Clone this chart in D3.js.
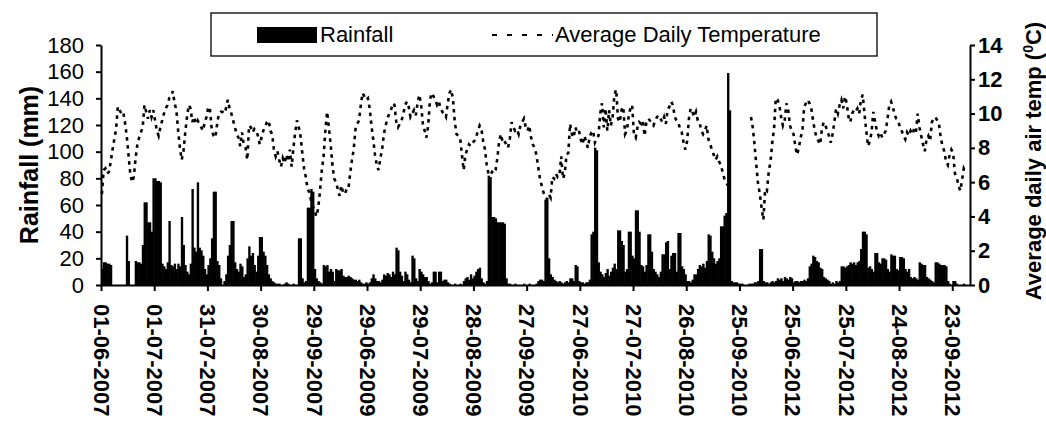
<!DOCTYPE html>
<html>
<head>
<meta charset="utf-8">
<script src="https://cdn.jsdelivr.net/npm/d3@7"></script>
<style>
  body { margin: 0; background: #fff; }
  svg { display: block; font-family: "Liberation Sans", Arial, sans-serif; }
</style>
</head>
<body>
<svg width="1046" height="421"></svg>
<script>
// tick labels, one every 30 days of the four Jun-Sep seasons
const tickDays = [0, 30, 60, 90, 120, 150, 180, 210, 240, 270, 300, 330, 360, 390, 420, 450, 480];
const tickLabels = ['01-06-2007', '01-07-2007', '31-07-2007', '30-08-2007', '29-09-2007',
  '29-06-2009', '29-07-2009', '28-08-2009', '27-09-2009',
  '27-06-2010', '27-07-2010', '26-08-2010', '25-09-2010',
  '25-06-2012', '25-07-2012', '24-08-2012', '23-09-2012'];
const rainTicks = [0, 20, 40, 60, 80, 100, 120, 140, 160, 180];
const tempTicks = [0, 2, 4, 6, 8, 10, 12, 14];

// daily rainfall (mm), 1 June - 30 September of each year
const rain2007 = [
  12, 17, 17, 16, 16, 15, 0, 0, 0, 0,
  0, 0, 0, 0, 37, 18, 0, 0, 0, 18,
  17, 17, 16, 30, 62, 62, 47, 47, 40, 80,
  80, 78, 78, 77, 16, 14, 12, 17, 48, 15,
  14, 16, 12, 16, 14, 51, 30, 15, 10, 8,
  16, 72, 28, 25, 77, 28, 26, 22, 12, 8,
  15, 20, 35, 70, 70, 18, 15, 5, 0, 3,
  8, 22, 30, 48, 48, 17, 12, 10, 16, 14,
  6, 8, 20, 29, 22, 24, 15, 10, 22, 36,
  36, 25, 22, 15, 8, 5, 3, 2, 1, 1,
  1, 0, 0, 1, 2, 1, 0, 0, 1, 0,
  0, 35, 35, 5, 2, 3, 58, 58, 72, 70,
  12, 5];
const rain2009 = [
  3, 2, 1, 15, 14, 15, 10, 12, 10, 3,
  12, 11, 11, 12, 7, 6, 6, 7, 6, 5,
  4, 4, 3, 4, 2, 1, 1, 2, 1, 2,
  5, 8, 5, 3, 3, 2, 4, 8, 7, 9,
  8, 6, 10, 8, 28, 26, 10, 7, 3, 10,
  8, 4, 2, 22, 20, 5, 3, 12, 10, 8,
  6, 6, 3, 1, 2, 10, 10, 2, 10, 10,
  3, 4, 4, 2, 1, 0, 0, 1, 0, 0,
  1, 0, 3, 5, 6, 4, 8, 5, 7, 10,
  12, 13, 5, 2, 1, 3, 82, 81, 51, 51,
  50, 47, 47, 47, 47, 46, 5, 1, 1, 0,
  0, 1, 0, 0, 0, 0, 1, 0, 0, 1,
  0, 0];
const rain2010 = [
  0, 1, 3, 4, 4, 3, 64, 64, 20, 8,
  6, 4, 3, 2, 3, 2, 1, 2, 3, 2,
  5, 5, 3, 15, 14, 3, 2, 2, 1, 2,
  2, 4, 38, 40, 103, 101, 17, 10, 8, 6,
  9, 12, 7, 10, 13, 16, 12, 41, 41, 33,
  30, 10, 12, 40, 40, 22, 20, 56, 56, 40,
  15, 14, 10, 15, 38, 38, 25, 12, 10, 8,
  6, 10, 23, 23, 32, 33, 12, 22, 24, 24,
  10, 39, 39, 14, 12, 8, 3, 3, 2, 4,
  8, 8, 12, 15, 14, 16, 13, 18, 38, 37,
  25, 20, 16, 18, 20, 44, 44, 52, 54, 159,
  131, 3, 2, 2, 2, 1, 1, 1, 0, 0,
  0, 1];
const rain2012 = [
  1, 1, 2, 2, 3, 27, 27, 3, 2, 2,
  1, 2, 3, 2, 3, 5, 4, 5, 3, 6,
  5, 4, 6, 5, 2, 3, 3, 2, 3, 3,
  4, 3, 5, 14, 16, 22, 21, 18, 17, 13,
  12, 6, 5, 4, 3, 1, 2, 1, 3, 2,
  3, 14, 14, 13, 14, 15, 17, 16, 17, 15,
  17, 18, 27, 40, 40, 38, 13, 14, 12, 10,
  24, 24, 17, 16, 20, 20, 19, 12, 10, 23,
  22, 22, 12, 11, 21, 21, 20, 12, 10, 12,
  6, 5, 6, 5, 4, 17, 16, 15, 15, 6,
  5, 4, 3, 2, 17, 17, 16, 15, 15, 15,
  14, 3, 1, 0, 3, 3, 1, 0, 0, 0,
  1, 0];

// average daily air temperature (C), same days; null = no record
const temp2007 = [
  5.3, 6.7, 6.8, 6.5, 6.6, 7.2, 7.9, 8.5, 9.1, 10.4,
  10.2, 10.0, 10.1, 9.5, 8.7, 7.6, 6.5, 6.0, 6.3, 7.4,
  8.2, 8.6, 8.9, 9.2, 10.5, 10.1, 9.7, 10.2, 9.8, 10.2,
  9.6, 9.0, 8.7, 9.2, 9.6, 10.0, 10.3, 10.5, 10.9, 11.0,
  11.3, 10.6, 10.2, 9.0, 8.0, 7.3, 7.8, 8.9, 9.8, 10.5,
  10.3, 9.5, 9.8, 9.4, 9.6, 9.4, 9.2, 9.0, 9.5, 9.8,
  10.4, 10.2, 9.0, 8.7, 8.6, 9.4, 10.0, 10.1, 10.1, 10.0,
  10.3, 10.8, 10.3, 10.0, 9.6, 9.2, 8.8, 8.6, 8.1, 8.9,
  8.2, 8.0, 7.3, 9.3, 9.2, 8.9, 9.1, 9.0, 8.7, 8.2,
  8.6, 9.0, 9.2, 9.5, 9.6, 9.0, 8.8, 7.9, 7.5, 7.8,
  7.3, 6.9, 7.4, 7.1, 7.6, 7.2, 7.9, 6.9, 8.0, 8.9,
  9.6, 9.2, 8.7, 7.7, 6.8, 6.3, 5.6, 5.4, 4.9, 4.6,
  4.3, 4.0];
const temp2009 = [
  4.5, 5.5, 6.7, 7.5, 9.0, 10.1, 9.2, 8.2, 7.0, 6.2,
  6.0, 5.6, 5.2, 5.8, 5.4, 5.3, 5.6, 5.6, 6.5, 7.3,
  7.9, 9.1, 9.4, 9.6, 10.5, 11.2, 11.0, 10.8, 10.9, 10.3,
  9.3, 8.5, 7.6, 7.0, 6.7, 7.4, 7.9, 8.8, 9.3, 9.7,
  10.0, 10.2, 10.6, 10.5, 9.5, 9.2, 9.4, 9.6, 10.0, 10.5,
  10.7, 10.4, 9.8, 10.0, 10.2, 9.9, 10.6, 11.1, 10.5, 9.4,
  9.0, 8.6, 9.3, 10.8, 11.2, 11.0, 10.8, 10.5, 10.7, 10.3,
  10.1, 10.0, 9.8, 10.6, 11.2, 11.4, 10.8, 9.5, 8.8, 8.7,
  8.6, 7.6, 6.7, 7.6, 7.9, 8.2, 8.1, 8.3, 8.4, 8.6,
  9.0, 9.3, 9.1, 8.4, 7.9, 7.0, 6.5, 6.4, 6.6, 6.5,
  6.7, 7.4, 8.4, 8.8, 8.3, 8.4, 8.2, 8.0, 8.5, 9.5,
  9.2, 9.0, 9.1, 8.8, 9.3, 9.5, 9.7, 9.2, 9.0, 9.3,
  8.6, 8.2];
const temp2010 = [
  8.0, 7.6, 6.9, 6.2, 5.8, 5.4, 5.2, 5.0, 5.3, 5.1,
  6.3, 6.2, 6.5, 6.3, 6.4, 7.5, 6.2, 6.5, 7.6, 7.7,
  9.4, 8.8, 8.6, 9.2, 8.9, 9.0, 8.5, 8.2, 8.7, 8.4,
  8.0, 8.6, 8.9, 9.0, 8.3, 8.5, 8.7, 10.0, 10.6, 9.2,
  10.3, 9.0, 10.2, 9.3, 9.8, 11.1, 11.4, 9.7, 9.5, 10.2,
  10.4, 8.8, 9.0, 9.8, 10.3, 10.5, 8.8, 8.6, 9.2, 9.5,
  9.4, 9.6, 8.7, 9.5, 9.7, 9.6, 9.4, 9.3, 9.6, 9.8,
  9.9, 9.7, 9.5, 9.8, 9.4, 10.2, 10.4, 10.7, 10.5, 9.8,
  9.6, 9.5, 9.1, 8.9, 8.3, 7.9, 8.4, 9.7, 10.3, 10.1,
  9.8, 10.1, 9.6, 9.5, 9.0, 8.8, 9.0, 9.3, 8.5, 8.2,
  7.9, 7.6, 7.3, 7.5, 7.2, 7.0, 6.6, 6.2, 6.0, 5.8,
  null, null, null, null, null, null, null, null, null, null,
  null, null];
const temp2012 = [
  9.8, 9.2, 8.2, 7.0, 5.9, 5.3, 4.5, 3.8, 5.6, 5.5,
  6.6, 7.2, 8.3, 9.1, 10.9, 10.8, 10.5, 9.8, 9.3, 9.6,
  10.6, 10.2, 9.3, 9.0, 8.8, 8.1, 7.6, 8.0, 8.6, 9.0,
  10.4, 10.6, 10.8, 10.6, 10.3, 9.6, 9.0, 8.6, 8.4, 8.2,
  9.1, 9.5, 9.3, 9.0, 8.7, 8.3, 8.8, 9.5, 10.3, 10.0,
  10.5, 10.8, 10.3, 11.0, 10.6, 9.8, 9.5, 10.0, 10.2, 10.1,
  10.3, 10.0, 10.8, 11.1, 10.0, 9.0, 8.1, 8.4, 8.9, 10.1,
  9.5, 9.0, 8.7, 8.9, 8.6, 8.8, 9.0, 9.7, 10.5, 10.7,
  10.4, 9.9, 9.7, 9.6, 9.2, 9.0, 8.7, 8.5, 8.9, 8.7,
  9.0, 8.8, 9.1, 8.9, 10.0, 9.2, 8.7, 8.2, 7.8, 8.5,
  8.7, 8.4, 9.5, 9.7, 9.8, 9.6, 9.4, 8.6, 8.1, 7.8,
  7.2, 7.0, 7.6, 7.9, 7.7, 6.5, 6.3, 5.8, 5.5, 6.1,
  6.8, 6.6];

const rainfall = [].concat(rain2007, rain2009, rain2010, rain2012);
const temperature = [].concat(temp2007, temp2009, temp2010, temp2012);
const days = rainfall.map((r, i) => ({day: i, rain: r, temp: temperature[i]}));

const svg = d3.select('svg');

// plot box: 101..970 wide, 45..285 high
const xScale = d3.scaleLinear().domain([0, 490]).range([101, 970]);
const yRain = d3.scaleLinear().domain([0, 180]).range([285, 45]);
const yTemp = d3.scaleLinear().domain([0, 14]).range([285, 45]);

// rainfall bars (slight overlap so neighbours merge like the original)
svg.append('g').selectAll('rect').data(days).enter().append('rect')
  .attr('x', d => xScale(d.day))
  .attr('y', d => yRain(d.rain))
  .attr('width', xScale(1) - xScale(0) + 0.6)
  .attr('height', d => yRain(0) - yRain(d.rain))
  .attr('fill', '#000');

// temperature, dashed
const line = d3.line()
  .defined(d => d.temp !== null)
  .x(d => xScale(d.day + 0.5))
  .y(d => yTemp(d.temp));

svg.append('path')
  .datum(days)
  .attr('d', line)
  .attr('fill', 'none')
  .attr('stroke', '#000')
  .attr('stroke-width', 2.6)
  .attr('stroke-dasharray', '3.5,4.5');

// axes
const styleAxis = (g) => {
  g.select('.domain').attr('stroke', '#000').attr('stroke-width', 2);
  g.selectAll('.tick line').attr('stroke', '#000').attr('stroke-width', 2);
  g.selectAll('.tick text').attr('fill', '#000');
};

svg.append('g')
  .attr('transform', 'translate(101, 0)')
  .call(d3.axisLeft(yRain).tickValues(rainTicks).tickSize(5).tickSizeOuter(0).tickPadding(12))
  .call(styleAxis)
  .call(g => g.selectAll('.tick text').attr('font-size', 22).attr('font-family', null));

svg.append('g')
  .attr('transform', 'translate(970, 0)')
  .call(d3.axisRight(yTemp).tickValues(tempTicks).tickSize(5).tickSizeOuter(0).tickPadding(3))
  .call(styleAxis)
  .call(g => g.selectAll('.tick text').attr('font-size', 22).attr('font-weight', 'bold').attr('font-family', null));

const xAxis = svg.append('g')
  .attr('transform', 'translate(0, 285)')
  .call(d3.axisBottom(xScale).tickValues(tickDays).tickFormat((d, i) => tickLabels[i]).tickSize(6).tickSizeOuter(0))
  .call(styleAxis);

xAxis.selectAll('.tick text')
  .attr('font-size', 22)
  .attr('font-weight', 'bold')
  .attr('font-family', null)
  .attr('text-anchor', 'start')
  .attr('x', 19)
  .attr('y', 0)
  .attr('dy', '0.35em')
  .attr('transform', 'rotate(90)');

// axis titles
svg.append('text')
  .attr('transform', 'translate(38, 165) rotate(-90)')
  .attr('text-anchor', 'middle')
  .attr('font-size', 25)
  .attr('font-weight', 'bold')
  .text('Rainfall (mm)');

const rightTitle = svg.append('text')
  .attr('transform', 'translate(1041, 161) rotate(-90)')
  .attr('text-anchor', 'middle')
  .attr('font-size', 22)
  .attr('font-weight', 'bold');
rightTitle.append('tspan').text('Average daily air temp (');
rightTitle.append('tspan').attr('font-size', 14).attr('dy', -8).text('0');
rightTitle.append('tspan').attr('dy', 8).text('C)');

// legend
const legend = svg.append('g');
legend.append('rect')
  .attr('x', 211).attr('y', 13).attr('width', 666).attr('height', 43)
  .attr('fill', '#fff').attr('stroke', '#222').attr('stroke-width', 1.5);
legend.append('rect')
  .attr('x', 257).attr('y', 27).attr('width', 60).attr('height', 16)
  .attr('fill', '#000');
legend.append('text')
  .attr('x', 320).attr('y', 42).attr('font-size', 22)
  .text('Rainfall');
legend.append('line')
  .attr('x1', 492).attr('x2', 553).attr('y1', 35).attr('y2', 35)
  .attr('stroke', '#000').attr('stroke-width', 2).attr('stroke-dasharray', '5,10');
legend.append('text')
  .attr('x', 555).attr('y', 42).attr('font-size', 22)
  .text('Average Daily Temperature');
</script>
</body>
</html>
